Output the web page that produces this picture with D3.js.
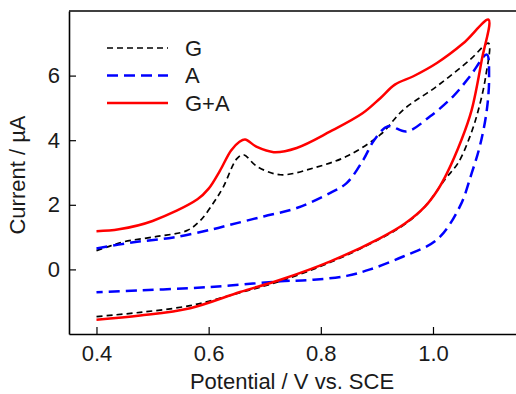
<!DOCTYPE html>
<html>
<head>
<meta charset="utf-8">
<script src="https://cdn.jsdelivr.net/npm/d3@7"></script>
<style>
    body { margin: 0; background: #fff; }
    svg { display: block; font-family: "Liberation Sans", Arial, sans-serif; }
</style>
</head>
<body>
<svg id="chart" width="516" height="394"></svg>
<script>
// cyclic voltammograms, forward scan then reverse scan
const gPotential = [0.40, 0.425, 0.45, 0.508, 0.561, 0.585, 0.609, 0.626, 0.65, 0.662, 0.686, 0.728, 0.787, 0.846, 0.906, 0.947, 1.007, 1.066, 1.099,
    1.094, 1.081, 1.066, 1.045, 1.022, 0.986, 0.95, 0.906, 0.817, 0.728, 0.656, 0.567, 0.478, 0.40];
const gCurrent = [0.58, 0.73, 0.86, 1.02, 1.20, 1.51, 2.07, 2.55, 3.42, 3.55, 3.19, 2.93, 3.14, 3.50, 4.17, 4.94, 5.67, 6.49, 7.00,
    5.98, 4.94, 4.12, 3.30, 2.80, 1.95, 1.40, 0.95, 0.22, -0.36, -0.72, -1.12, -1.33, -1.46];

const aPotential = [0.40, 0.466, 0.537, 0.609, 0.638, 0.698, 0.757, 0.817, 0.846, 0.876, 0.895, 0.92, 0.953, 0.995, 1.036, 1.066, 1.096,
    1.10, 1.096, 1.084, 1.069, 1.048, 1.007, 0.947, 0.888, 0.846, 0.787, 0.728, 0.638, 0.567, 0.478, 0.40];
const aCurrent = [0.65, 0.84, 0.99, 1.25, 1.38, 1.64, 1.90, 2.37, 2.67, 3.40, 4.00, 4.43, 4.27, 4.74, 5.36, 5.98, 6.65,
    5.98, 4.94, 3.85, 2.98, 1.95, 0.92, 0.40, 0.00, -0.20, -0.32, -0.37, -0.50, -0.58, -0.65, -0.71];

const gaPotential = [0.40, 0.44, 0.50, 0.58, 0.60, 0.62, 0.64, 0.655, 0.665, 0.686, 0.716, 0.757, 0.817, 0.875, 0.906, 0.932, 0.965, 1.007, 1.054, 1.099,
    1.087, 1.069, 1.051, 1.025, 1.008, 0.986, 0.95, 0.906, 0.817, 0.728, 0.656, 0.567, 0.478, 0.40];
const gaCurrent = [1.18, 1.24, 1.50, 2.17, 2.50, 3.05, 3.68, 3.95, 4.02, 3.79, 3.63, 3.76, 4.27, 4.84, 5.30, 5.72, 5.98, 6.39, 7.00, 7.73,
    6.49, 4.94, 4.02, 2.98, 2.45, 1.95, 1.42, 0.97, 0.25, -0.32, -0.70, -1.20, -1.43, -1.56];

const xTicks = [0.4, 0.6, 0.8, 1.0];
const yTicks = [0, 2, 4, 6];
const legendNames = ['G', 'A', 'G+A'];

const margin = { left: 69, top: 11, bottom: 60 };
const width = 516;
const height = 394;
const fontSize = '22px';

const series = [
    { name: legendNames[0], x: gPotential, y: gCurrent, color: '#000', width: 1.7, dash: '6,4' },
    { name: legendNames[1], x: aPotential, y: aCurrent, color: '#0000ff', width: 2.5, dash: '11,6' },
    { name: legendNames[2], x: gaPotential, y: gaCurrent, color: '#ff0000', width: 2.5, dash: null }
];

const xScale = d3.scaleLinear()
    .domain([0.351, 1.148])
    .range([margin.left, width]);

const yScale = d3.scaleLinear()
    .domain([-2, 8])
    .range([height - margin.bottom, margin.top]);

const svg = d3.select('#chart');

const line = d3.line()
    .x(d => xScale(d[0]))
    .y(d => yScale(d[1]))
    .curve(d3.curveCatmullRom.alpha(0.5));

const plot = svg.append('g');

series.forEach(s => {
    const pts = s.x.map((v, i) => [v, s.y[i]]);
    plot.append('path')
        .datum(pts)
        .attr('d', line)
        .attr('fill', 'none')
        .attr('stroke', s.color)
        .attr('stroke-width', s.width)
        .attr('stroke-dasharray', s.dash)
        .attr('stroke-linejoin', 'round');
});

// axes, ticks point inward
const xAxis = d3.axisBottom(xScale)
    .tickValues(xTicks)
    .tickFormat(d3.format('.1f'))
    .tickSizeInner(-7)
    .tickSizeOuter(0);

const yAxis = d3.axisLeft(yScale)
    .tickValues(yTicks)
    .tickFormat(d3.format('d'))
    .tickSizeInner(-7)
    .tickSizeOuter(0)
    .tickPadding(9);

const gx = svg.append('g')
    .attr('transform', `translate(0,${height - margin.bottom})`)
    .call(xAxis);

const gy = svg.append('g')
    .attr('transform', `translate(${margin.left},0)`)
    .call(yAxis);

[gx, gy].forEach(g => {
    g.select('.domain').attr('stroke', '#000').attr('stroke-width', 1.6);
    g.selectAll('.tick line').attr('stroke', '#000').attr('stroke-width', 1.2);
    g.selectAll('.tick text')
        .attr('fill', '#1a1a1a')
        .style('font-size', fontSize)
        .style('font-family', '"Liberation Sans", Arial, sans-serif');
});

gx.selectAll('.tick text').attr('dy', 0).attr('y', 27);

// top border
svg.append('line')
    .attr('x1', margin.left)
    .attr('x2', width)
    .attr('y1', margin.top)
    .attr('y2', margin.top)
    .attr('stroke', '#000')
    .attr('stroke-width', 1.6);

svg.append('text')
    .attr('x', 292)
    .attr('y', 389)
    .attr('text-anchor', 'middle')
    .attr('fill', '#1a1a1a')
    .style('font-size', fontSize)
    .text('Potential / V vs. SCE');

svg.append('text')
    .attr('transform', 'translate(25,175) rotate(-90)')
    .attr('text-anchor', 'middle')
    .attr('fill', '#1a1a1a')
    .style('font-size', fontSize)
    .text('Current / µA');

// legend
const legend = svg.append('g')
    .selectAll('g')
    .data(series)
    .enter()
    .append('g')
    .attr('transform', (d, i) => `translate(107,${48 + i * 27.5})`);

legend.append('line')
    .attr('x1', 0)
    .attr('x2', 61)
    .attr('stroke', d => d.color)
    .attr('stroke-width', d => d.width)
    .attr('stroke-dasharray', d => d.dash);

legend.append('text')
    .attr('x', 78)
    .attr('dy', '0.36em')
    .attr('fill', '#1a1a1a')
    .style('font-size', fontSize)
    .text(d => d.name);
</script>
</body>
</html>
